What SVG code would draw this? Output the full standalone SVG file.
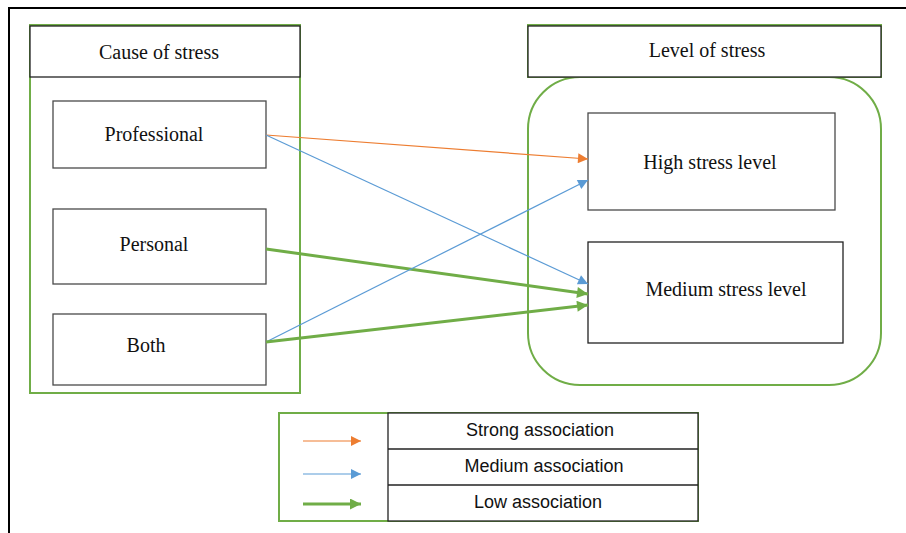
<svg xmlns="http://www.w3.org/2000/svg" width="906" height="533" viewBox="0 0 906 533">
<defs>
<style>
.serif{font-family:"Liberation Serif","Times New Roman",serif;font-size:20px;fill:#111;text-anchor:middle}
.sans{font-family:"Liberation Sans",Arial,sans-serif;font-size:18px;fill:#111;text-anchor:middle}
.box{fill:#fff;stroke:#4a4a4a;stroke-width:1.3}
.hdr{fill:#fff;stroke:#222;stroke-width:1.3}
.grp{fill:none;stroke:#70AD47;stroke-width:2}
.or{stroke:#ED7D31;stroke-width:1.2;fill:none}
.bl{stroke:#5B9BD5;stroke-width:1.2;fill:none}
.gr{stroke:#70AD47;stroke-width:3;fill:none}
</style>
<marker id="mo" viewBox="0 0 10 10" refX="10" refY="5" markerWidth="11" markerHeight="10" markerUnits="userSpaceOnUse" orient="auto"><path d="M0,0 L10,5 L0,10 z" fill="#ED7D31"/></marker>
<marker id="mb" viewBox="0 0 10 10" refX="10" refY="5" markerWidth="11" markerHeight="10" markerUnits="userSpaceOnUse" orient="auto"><path d="M0,0 L10,5 L0,10 z" fill="#5B9BD5"/></marker>
<marker id="mg" viewBox="0 0 10 10" refX="10" refY="5" markerWidth="12" markerHeight="11" markerUnits="userSpaceOnUse" orient="auto"><path d="M0,0 L10,5 L0,10 z" fill="#70AD47"/></marker>
</defs>
<rect width="906" height="533" fill="#fff"/>
<path d="M9,533 V8 H906" fill="none" stroke="#000" stroke-width="2"/>

<g id="cause-group">
<rect class="grp" x="30" y="25" width="270" height="368"/>
<rect class="hdr" x="30" y="26" width="270" height="51"/>
<text class="serif" x="159" y="59">Cause of stress</text>
</g>
<g id="professional">
<rect class="box" x="53" y="101" width="213" height="67"/>
<text class="serif" x="154" y="141">Professional</text>
</g>
<g id="personal">
<rect class="box" x="53" y="209" width="213" height="75"/>
<text class="serif" x="154" y="251">Personal</text>
</g>
<g id="both">
<rect class="box" x="53" y="314" width="213" height="71"/>
<text class="serif" x="146" y="352">Both</text>
</g>

<g id="level-group">
<rect class="grp" x="528" y="25" width="353" height="52"/>
<rect class="grp" x="528" y="77" width="353" height="308" rx="52" ry="52"/>
<rect class="hdr" x="528" y="26" width="353" height="51"/>
<text class="serif" x="707" y="57">Level of stress</text>
</g>
<g id="high">
<rect class="box" x="588" y="113" width="247" height="97"/>
<text class="serif" x="710" y="169">High stress level</text>
</g>
<g id="medium">
<rect class="hdr" x="588" y="242" width="255" height="101"/>
<text class="serif" x="726" y="296">Medium stress level</text>
</g>

<g id="connectors">
<line class="or" x1="266" y1="135" x2="588" y2="159" marker-end="url(#mo)"/>
<line class="bl" x1="266" y1="135" x2="588" y2="284" marker-end="url(#mb)"/>
<line class="gr" x1="266" y1="249" x2="588" y2="294" marker-end="url(#mg)"/>
<line class="bl" x1="266" y1="342" x2="588" y2="180" marker-end="url(#mb)"/>
<line class="gr" x1="266" y1="342" x2="588" y2="305" marker-end="url(#mg)"/>
</g>

<g id="legend">
<rect x="279" y="413" width="419" height="108" fill="#fff" stroke="#70AD47" stroke-width="2"/>
<rect x="388" y="413" width="310" height="108" fill="#fff" stroke="#222" stroke-width="1.3"/>
<line x1="388" y1="449" x2="698" y2="449" stroke="#222" stroke-width="1.3"/>
<line x1="388" y1="485" x2="698" y2="485" stroke="#222" stroke-width="1.3"/>
<line class="or" x1="303" y1="441" x2="361" y2="441" marker-end="url(#mo)"/>
<line class="bl" x1="303" y1="474" x2="361" y2="474" marker-end="url(#mb)"/>
<line class="gr" x1="303" y1="504" x2="361" y2="504" marker-end="url(#mg)"/>
<text class="sans" x="540" y="436">Strong association</text>
<text class="sans" x="544" y="472">Medium association</text>
<text class="sans" x="538" y="508">Low association</text>
</g>
</svg>
